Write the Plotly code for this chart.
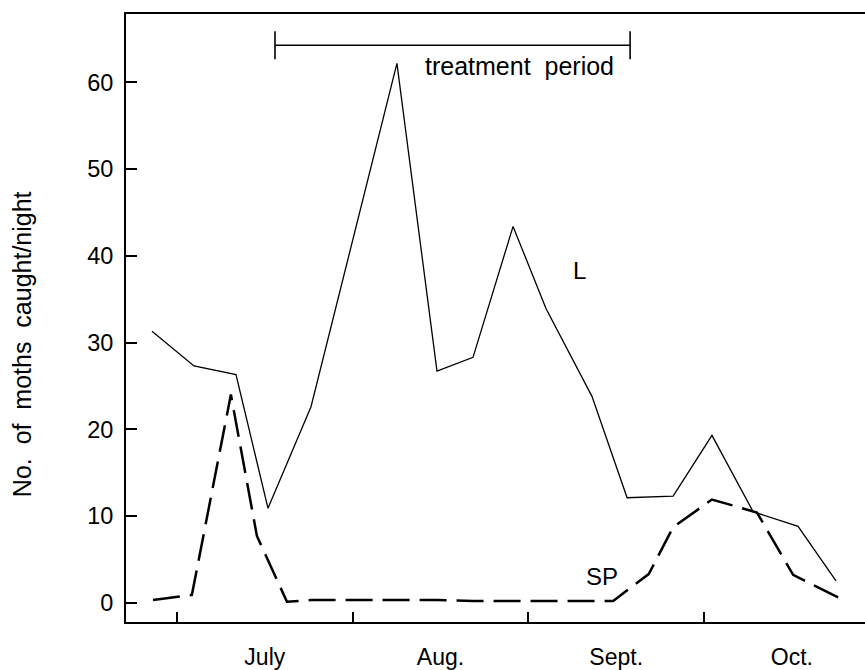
import plotly.graph_objects as go

# x positions in months after 1 July (0 = July 1, 1 = Aug 1, ...)
l_x = [-0.142, 0.097, 0.336, 0.518, 0.763, 1.252, 1.480, 1.685, 1.913, 2.101,
       2.362, 2.562, 2.824, 3.045, 3.279, 3.535, 3.751]
l_y = [31.3, 27.3, 26.3, 10.9, 22.6, 62.2, 26.7, 28.3, 43.4, 33.9,
       23.8, 12.1, 12.3, 19.3, 10.5, 8.8, 2.5]

sp_x = [-0.136, 0.085, 0.307, 0.455, 0.626, 0.763, 1.252, 1.480, 1.685, 1.913,
        2.101, 2.483, 2.685, 2.824, 3.045, 3.301, 3.507, 3.763]
sp_y = [0.3, 0.9, 24.0, 7.7, 0.1, 0.3, 0.3, 0.3, 0.2, 0.2,
        0.2, 0.2, 3.3, 8.7, 11.9, 10.4, 3.2, 0.6]

treat_x = [0.558, 2.579]
treat_y = [64.3, 64.3]

month_pos = [0.5, 1.5, 2.5, 3.5]
month_labels = ["July", "Aug.", "Sept.", "Oct."]
month_ticks = [0, 1, 2, 3]
y_ticks = [0, 10, 20, 30, 40, 50, 60]

FONT = "Liberation Sans, Arial, sans-serif"
SP2 = "\u00a0\u00a0"

fig = go.Figure()
fig.add_trace(go.Scatter(x=l_x, y=l_y, mode="lines",
                         line=dict(color="black", width=1.3),
                         showlegend=False, hoverinfo="skip"))
fig.add_trace(go.Scatter(x=sp_x, y=sp_y, mode="lines",
                         line=dict(color="black", width=2.5, dash="27px,10px"),
                         showlegend=False, hoverinfo="skip"))
fig.add_trace(go.Scatter(x=treat_x, y=treat_y, mode="lines+markers",
                         line=dict(color="black", width=1.6),
                         marker=dict(symbol="line-ns-open", size=20,
                                     line=dict(color="black", width=1.6)),
                         showlegend=False, hoverinfo="skip"))
# invisible trace on overlay axis for month boundary ticks
fig.add_trace(go.Scatter(x=month_ticks, y=[None] * 4, xaxis="x2",
                         mode="markers", showlegend=False, hoverinfo="skip"))

fig.update_layout(
    width=865, height=670,
    margin=dict(l=126, r=0, t=14, b=46),
    paper_bgcolor="white", plot_bgcolor="white",
    font=dict(family=FONT, size=23, color="black"),
    xaxis=dict(range=[-0.29, 3.916], tickmode="array", tickvals=month_pos,
               ticktext=month_labels, ticks="", showgrid=False, zeroline=False,
               showline=True, linecolor="black", linewidth=2, mirror=True,
               ticklabelstandoff=13, tickfont=dict(size=23)),
    xaxis2=dict(range=[-0.29, 3.916], overlaying="x", anchor="y", side="bottom",
                tickmode="array", tickvals=month_ticks, showticklabels=False,
                ticks="inside", ticklen=10, tickwidth=2, tickcolor="black",
                showgrid=False, zeroline=False, showline=False),
    yaxis=dict(range=[-2.23, 67.9], tickmode="array", tickvals=y_ticks,
               ticks="inside", ticklen=11, tickwidth=2, tickcolor="black",
               showgrid=False, zeroline=False, showline=True, linecolor="black",
               linewidth=2, mirror=False, ticklabelstandoff=6,
               tickfont=dict(size=23.5)),
    annotations=[
        dict(text="No." + SP2 + "of" + SP2 + "moths" + SP2 + "caught/night",
             textangle=-90, xref="paper", yref="paper", x=-0.1407, y=0.457,
             xanchor="center", yanchor="middle", showarrow=False,
             font=dict(size=25)),
        dict(text="treatment" + SP2 + "period", xref="x", yref="y",
             x=1.952, y=61.9, xanchor="center", yanchor="middle",
             showarrow=False, font=dict(size=25)),
        dict(text="L", xref="x", yref="y", x=2.29, y=38.3,
             xanchor="center", yanchor="middle", showarrow=False,
             font=dict(size=24)),
        dict(text="SP", xref="x", yref="y", x=2.42, y=3.06,
             xanchor="center", yanchor="middle", showarrow=False,
             font=dict(size=24)),
    ],
)

fig.write_html("out.html")
